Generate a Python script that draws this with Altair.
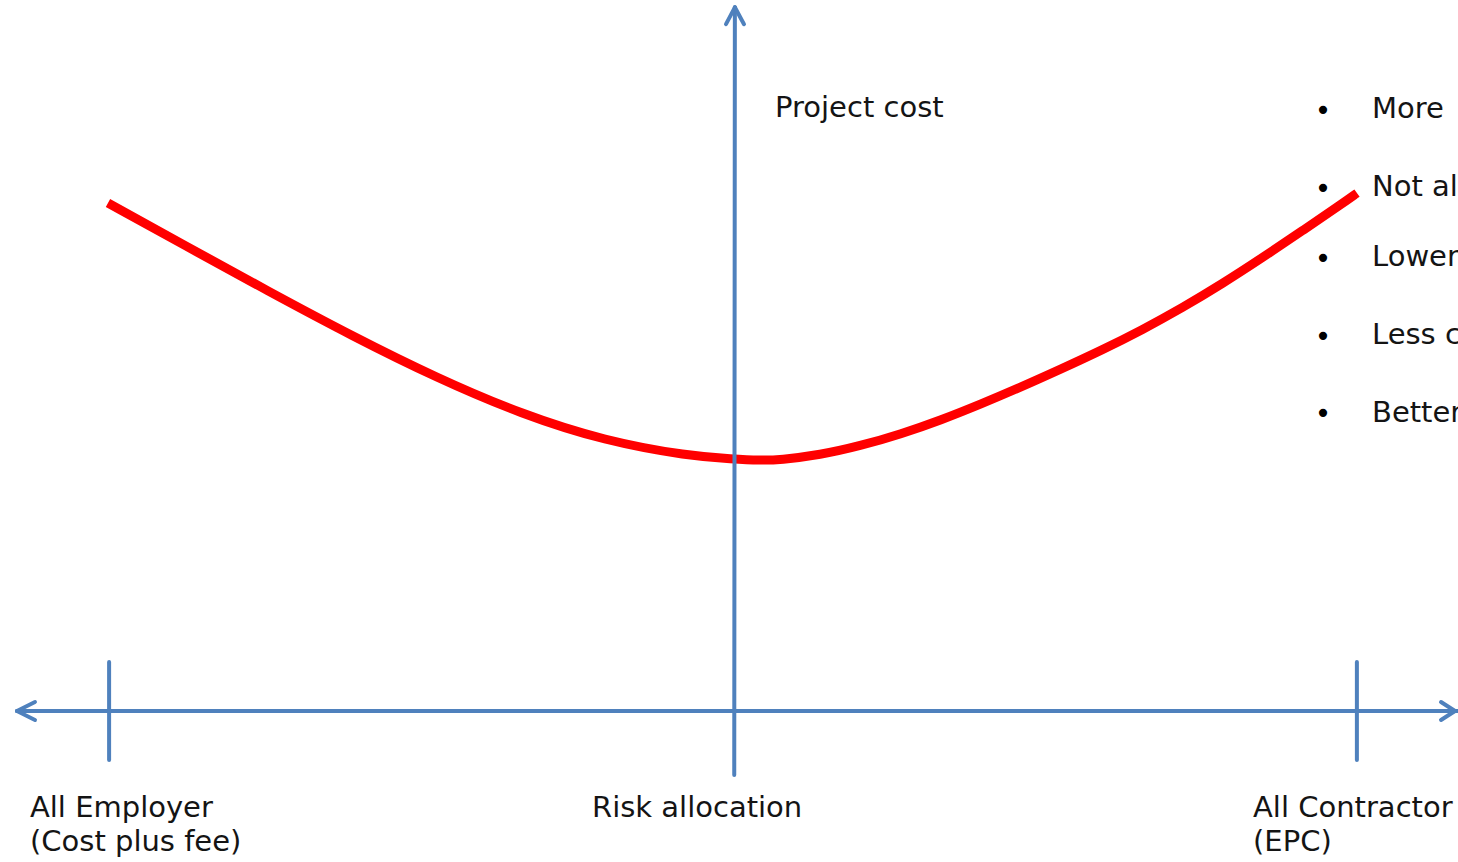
import altair as alt
import pandas as pd

# ---- data (risk allocation: -1 = all employer, +1 = all contractor; cost in arbitrary units) ----
curve_x = [-1.0008, -0.8791, -0.7446, -0.6101, -0.4740, -0.3395, -0.2050, -0.0705, 0.0, 0.0432,
           0.0753, 0.1393, 0.2034, 0.2690, 0.3331, 0.3971, 0.4612, 0.5252, 0.5909, 0.6549,
           0.7190, 0.7830, 0.8471, 0.9111, 0.9768, 0.9992]
curve_cost = [72.26, 66.29, 59.74, 53.36, 47.37, 42.25, 38.41, 36.27, 35.85, 35.66,
              35.72, 36.42, 37.70, 39.40, 41.39, 43.67, 46.09, 48.65, 51.35, 54.20,
              57.33, 60.74, 64.44, 68.28, 72.26, 73.68]

# axis / tick / arrow segments
seg_x1 = [-1.1465, 0.002, -0.999, 0.999, -1.1465, -1.1465, 1.1561, 1.1561, 0.003, 0.003]
seg_y1 = [0.0, -9.1, 6.97, 6.97, 0.0, 0.0, 0.0, 0.0, 100.1, 100.1]
seg_x2 = [1.1609, 0.003, -0.999, 0.999, -1.1177, -1.1177, 1.1337, 1.1337, -0.0112, 0.0176]
seg_y2 = [0.0, 100.1, -6.97, -6.97, 1.28, -1.28, 1.28, -1.28, 97.7, 97.7]

label_text = ["Project cost", "All Employer", "(Cost plus fee)", "Risk allocation",
              "All Contractor", "(EPC)", "More", "Not al", "Lower", "Less c", "Better"]
label_x = [0.0673, -1.1257, -1.1257, -0.2258, 0.8327, 0.8327, 1.0232, 1.0232, 1.0232, 1.0232, 1.0232]
label_y = [84.50, -15.08, -19.91, -15.08, -15.08, -19.91, 84.35, 73.26, 63.30, 52.20, 41.11]

bullet_x = [0.9448, 0.9448, 0.9448, 0.9448, 0.9448]
bullet_y = [84.07, 72.97, 63.02, 51.92, 40.97]

X_DOMAIN = [-1.1737, 1.1609]
Y_DOMAIN = [-21.48, 101.14]

xs = alt.Scale(domain=X_DOMAIN, nice=False, zero=False)
ys = alt.Scale(domain=Y_DOMAIN, nice=False, zero=False)

curve_df = pd.DataFrame({"x": curve_x, "cost": curve_cost})
seg_df = pd.DataFrame({"x1": seg_x1, "y1": seg_y1, "x2": seg_x2, "y2": seg_y2})
lab_df = pd.DataFrame({"t": label_text, "x": label_x, "y": label_y})
bul_df = pd.DataFrame({"t": ["•"] * len(bullet_x), "x": bullet_x, "y": bullet_y})

curve = alt.Chart(curve_df).mark_line(
    color="#FF0000", strokeWidth=9, interpolate="basis", strokeCap="butt"
).encode(
    x=alt.X("x:Q", scale=xs, axis=None),
    y=alt.Y("cost:Q", scale=ys, axis=None),
)

segs = alt.Chart(seg_df).mark_rule(
    color="#4F81BD", strokeWidth=4, strokeCap="round"
).encode(
    x=alt.X("x1:Q", scale=xs, axis=None),
    y=alt.Y("y1:Q", scale=ys, axis=None),
    x2="x2:Q",
    y2="y2:Q",
)

labels = alt.Chart(lab_df).mark_text(
    font="DejaVu Sans", fontSize=29, align="left", baseline="alphabetic", color="#141414"
).encode(
    x=alt.X("x:Q", scale=xs, axis=None),
    y=alt.Y("y:Q", scale=ys, axis=None),
    text="t:N",
)

bullets = alt.Chart(bul_df).mark_text(
    font="DejaVu Sans", fontSize=28, align="center", baseline="alphabetic", color="#000000"
).encode(
    x=alt.X("x:Q", scale=xs, axis=None),
    y=alt.Y("y:Q", scale=ys, axis=None),
    text="t:N",
)

chart = alt.layer(curve, segs, labels, bullets).properties(
    width=1458, height=862,
    autosize=alt.AutoSizeParams(type="none"),
    padding=0,
    background="white",
).configure_view(stroke=None)

chart.save("out.html", embed_options={"renderer": "svg", "actions": False})
